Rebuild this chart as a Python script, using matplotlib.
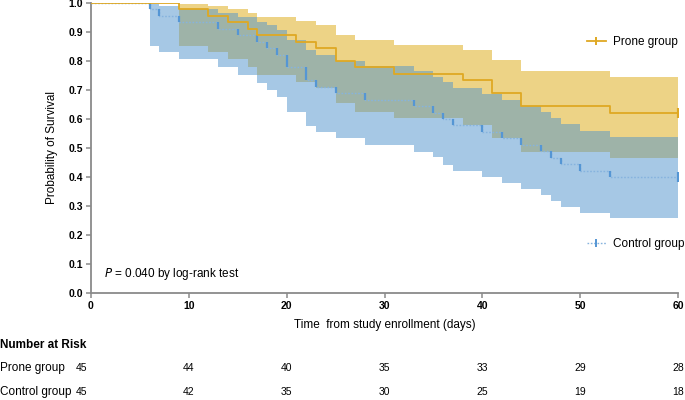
import numpy as np
import matplotlib
matplotlib.use("Agg")
import matplotlib.pyplot as plt
from matplotlib.lines import Line2D
from matplotlib.transforms import blended_transform_factory

plt.rcParams['font.family'] = ['Liberation Sans', 'DejaVu Sans']

# ---------------- data ----------------
prone_times = [0, 9, 12, 14, 16, 17, 21, 23, 25, 27, 31, 38, 41, 44, 53]
prone_surv = [1.0, 0.978, 0.956, 0.933, 0.911, 0.889, 0.867, 0.844, 0.800,
              0.778, 0.756, 0.733, 0.689, 0.644, 0.622]
prone_upper = [1.0, 0.997, 0.990, 0.978, 0.964, 0.951, 0.938, 0.924, 0.890,
               0.872, 0.856, 0.838, 0.803, 0.765, 0.744]
prone_lower = [1.0, 0.853, 0.832, 0.807, 0.780, 0.753, 0.729, 0.706, 0.654,
               0.625, 0.602, 0.579, 0.533, 0.487, 0.465]

control_times = [0, 6, 7, 9, 13, 15, 17, 18, 19, 20, 22, 23, 25, 28, 33, 35,
                 36, 37, 40, 42, 44, 46, 47, 48, 50, 53]
control_surv = [1.0, 0.978, 0.956, 0.933, 0.911, 0.889, 0.867, 0.844, 0.822,
                0.778, 0.733, 0.711, 0.689, 0.667, 0.644, 0.622, 0.600, 0.578,
                0.556, 0.533, 0.511, 0.489, 0.467, 0.444, 0.422, 0.400]
control_upper = [1.0, 0.997, 0.990, 0.980, 0.967, 0.951, 0.936, 0.924, 0.907,
                 0.872, 0.838, 0.820, 0.801, 0.783, 0.766, 0.746, 0.727, 0.706,
                 0.686, 0.666, 0.645, 0.625, 0.602, 0.582, 0.560, 0.537]
control_lower = [1.0, 0.852, 0.832, 0.806, 0.778, 0.752, 0.725, 0.700, 0.675,
                 0.625, 0.576, 0.556, 0.533, 0.510, 0.487, 0.468, 0.443, 0.422,
                 0.401, 0.378, 0.358, 0.338, 0.318, 0.298, 0.277, 0.259]

end_time = 60
risk_times = [0, 10, 20, 30, 40, 50, 60]
prone_at_risk = [45, 44, 40, 35, 33, 29, 28]
control_at_risk = [45, 42, 35, 30, 25, 19, 18]

group_names = ["Prone group", "Control group"]

# ---------------- styles ----------------
c_orange_line = '#DFA823'
c_orange_fill = '#EDD386'
c_blue_fill = '#A6C8E5'
c_overlap = '#9EB3A8'
c_blue_dot = '#86B3DE'
c_blue_riser = '#5596D4'
c_axis = '#8A8A8A'


def extend(times, vals):
    return np.array(list(times) + [end_time], float), np.array(list(vals) + [vals[-1]], float)


pt, ps = extend(prone_times, prone_surv)
_, pu = extend(prone_times, prone_upper)
_, pl = extend(prone_times, prone_lower)
ct, cs = extend(control_times, control_surv)
_, cu = extend(control_times, control_upper)
_, cl = extend(control_times, control_lower)

# common grid for overlap
grid = np.unique(np.concatenate([pt, ct]))


def at(times, vals, g):
    idx = np.searchsorted(times, g, side='right') - 1
    return vals[idx]


pu_g, pl_g = at(pt, pu, grid), at(pt, pl, grid)
cu_g, cl_g = at(ct, cu, grid), at(ct, cl, grid)
ov_lo = np.maximum(pl_g, cl_g)
ov_hi = np.minimum(pu_g, cu_g)

fig = plt.figure(figsize=(6.85, 4.0), dpi=100)
ax = fig.add_axes([91 / 685, 107 / 400, 587 / 685, 290 / 400])

ax.fill_between(pt, pl, pu, step='post', color=c_orange_fill, lw=0, zorder=1)
ax.fill_between(ct, cl, cu, step='post', color=c_blue_fill, lw=0, zorder=1)
ax.fill_between(grid, ov_lo, ov_hi, where=ov_hi > ov_lo, step='post',
                color=c_overlap, lw=0, zorder=2, interpolate=False)

# control curve: dotted horizontals + solid risers
ax.step(ct, cs, where='post', color=c_blue_dot, lw=1.0,
        linestyle=(0, (1.2, 1.2)), zorder=3)
ax.vlines(ct[1:-1], cs[1:-1], cs[:-2], color=c_blue_riser, lw=1.6, zorder=4)
ax.plot([ct[-1]], [cs[-1]], marker='|', ms=7, mew=1.6, color=c_blue_riser, zorder=5)

# prone curve
ax.step(pt, ps, where='post', color=c_orange_line, lw=1.3, zorder=5)
ax.plot([pt[-1]], [ps[-1]], marker='|', ms=7, mew=1.6, color=c_orange_line, zorder=6)

ax.set_xlim(0, 60)
ax.set_ylim(0, 1.0)
ax.set_xticks(risk_times)
ax.set_yticks(np.round(np.arange(0, 1.01, 0.1), 1))
ax.set_yticklabels([f"{v:.1f}" for v in np.arange(0, 1.01, 0.1)])
for lab in ax.get_xticklabels() + ax.get_yticklabels():
    lab.set_fontweight('bold')
    lab.set_fontsize(7.5)
ax.tick_params(axis='both', colors=c_axis, labelcolor='black', length=3.5,
               width=1.1, pad=2)
for s in ['top', 'right']:
    ax.spines[s].set_visible(False)
for s in ['left', 'bottom']:
    ax.spines[s].set_color(c_axis)
    ax.spines[s].set_linewidth(1.3)

ax.set_xlabel("Time  from study enrollment (days)", fontsize=8.5, labelpad=6)
ax.set_ylabel("Probability of Survival", fontsize=8.5, labelpad=8)

ax.text(0.022, 0.065, r"$\it{P}$ = 0.040 by log-rank test", transform=ax.transAxes,
        fontsize=8.5, va='center', ha='left')

# legend
h1 = Line2D([], [], color=c_orange_line, lw=1.3, marker='|', ms=6, mew=1.4)
h2 = Line2D([], [], color=c_blue_dot, lw=1.0, linestyle=(0, (1.2, 1.2)),
            marker='|', ms=6, mew=1.4, markeredgecolor=c_blue_riser)
leg1 = ax.legend([h1], [group_names[0]], loc='center left',
                 bbox_to_anchor=(0.845, 0.866), frameon=False, fontsize=8.5,
                 handlelength=1.6, handletextpad=0.6, borderpad=0, borderaxespad=0)
ax.add_artist(leg1)
ax.legend([h2], [group_names[1]], loc='center left',
          bbox_to_anchor=(0.845, 0.169), frameon=False, fontsize=8.5,
          handlelength=1.6, handletextpad=0.6, borderpad=0, borderaxespad=0)

# number at risk table
trans = blended_transform_factory(ax.transData, fig.transFigure)
fig.text(0.0, 1 - 345 / 400, "Number at Risk", fontsize=8.5, fontweight='bold',
         va='center', ha='left')
row_y = [1 - 368 / 400, 1 - 392 / 400]
xs = np.array(risk_times, float)
xs[0] -= 1.0
for name, counts, y in zip(group_names, [prone_at_risk, control_at_risk], row_y):
    fig.text(0.0, y, name, fontsize=8.5, va='center', ha='left')
    for x, n in zip(xs, counts):
        fig.text(x, y, str(n), transform=trans, fontsize=7.5, va='center', ha='center')

fig.savefig("out.png", dpi=100)
